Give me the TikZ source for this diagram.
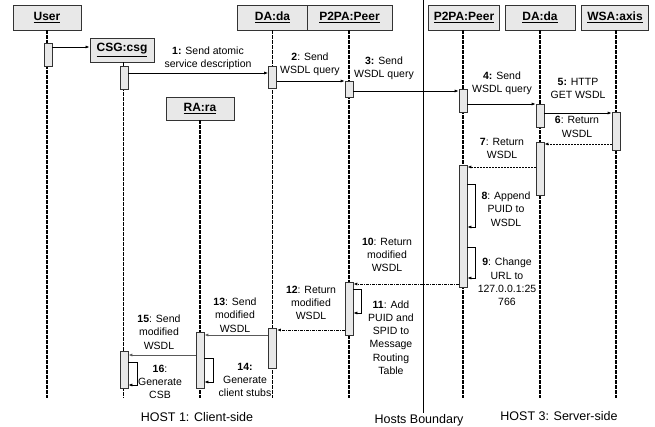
\documentclass[tikz,border=0pt]{standalone}
\usepackage{fontspec}
\setmainfont{Liberation Sans}
\usetikzlibrary{arrows.meta}
\begin{document}
\begin{tikzpicture}[x=1pt,y=-1pt,
  hdr/.style={draw=black!80, fill=gray!18, line width=0.8pt, inner sep=0pt, font=\bfseries\fontsize{12}{14}\selectfont},
  act/.style={draw=black!80, fill=gray!18, line width=0.7pt, minimum width=8pt, inner sep=0pt},
  life/.style={line width=1.6pt, dash pattern=on 3.5pt off 1.5pt},
  msg/.style={line width=0.7pt, -{Latex[length=4pt,width=3pt]}},
  ret/.style={msg, line width=0.8pt, dash pattern=on 2pt off 1pt},
  retdd/.style={msg, line width=0.9pt, dash pattern=on 3pt off 1pt on 1pt off 1pt},
  gmsg/.style={msg, draw=black!65, line width=1pt},
  lbl/.style={font=\fontsize{10.5}{13.3}\selectfont, align=center, inner sep=0pt},
  host/.style={font=\fontsize{12.5}{15}\selectfont, inner sep=0pt}]
\useasboundingbox (0,0) rectangle (655,427);

% hosts boundary
\coordinate (bTop) at (423,0);
\coordinate (bBot) at (423,413);
\draw[line width=0.6pt] (bTop) -- (bBot);

% header boxes
\node[hdr, minimum width=68pt, minimum height=25pt] (user) at (47,17.5) {\underline{User}};
\node[hdr, minimum width=71pt, minimum height=25pt] (da1) at (272.5,17.5) {\underline{DA:da}};
\node[hdr, minimum width=85pt, minimum height=25pt] (p1) at (349.5,17.5) {\underline{P2PA:Peer}};
\node[hdr, minimum width=71pt, minimum height=25pt] (p2) at (464,17.5) {\underline{P2PA:Peer}};
\node[hdr, minimum width=70pt, minimum height=25pt] (da2) at (540,17.5) {\underline{DA:da}};
\node[hdr, minimum width=67pt, minimum height=25pt] (wsa) at (615,17.5) {\underline{WSA:axis}};
\node[hdr, minimum width=64pt, minimum height=24pt] (csg) at (122,50) {\underline{CSG:csg}};
\node[hdr, minimum width=68pt, minimum height=23pt] (ra) at (200,108.5) {\underline{RA:ra}};

% lifelines
\draw[life] (user.south) -- (user.south |- 0,398);
\draw[life] (da1.south) -- (da1.south |- 0,398);
\draw[life] (p1.south -| 349,0) -- (349,398);
\draw[life] (p2.south -| 463,0) -- (463,398);
\draw[life] (da2.south) -- (da2.south |- 0,398);
\draw[life] (wsa.south -| 616,0) -- (616,398);
\draw[life] (csg.south -| 123.5,0) -- (123.5,398);
\draw[life] (ra.south) -- (ra.south |- 0,398);

% activations
\node[act, minimum height=23pt] (uA) at (48,54.5) {};
\node[act, minimum height=23pt] (csgA) at (124,77.5) {};
\node[act, minimum height=22pt] (da1A) at (272.5,77) {};
\node[act, minimum height=16pt] (p1A) at (349,89) {};
\node[act, minimum height=23pt] (p2A) at (463,100.5) {};
\node[act, minimum height=23pt] (da2A) at (540,115.5) {};
\node[act, minimum height=38pt] (wsaA) at (616,131) {};
\node[act, minimum height=53pt] (da2B) at (540,168.5) {};
\node[act, minimum height=122pt] (p2B) at (463,226) {};
\node[act, minimum height=53pt] (p1B) at (349,308.5) {};
\node[act, minimum height=40pt] (da1B) at (272.5,348) {};
\node[act, minimum height=56pt] (raA) at (200,360) {};
\node[act, minimum height=37pt] (csgB) at (124,369.5) {};

% messages
\draw[msg] (uA.east |- 0,47) -- (csg.west |- 0,47);
\draw[msg] (csgA.east |- 0,73) -- (da1A.west |- 0,73);
\draw[msg] (da1A.east |- 0,81) -- (p1A.west |- 0,81);
\draw[msg] (p1A.east |- 0,91) -- (p2A.west |- 0,91);
\draw[msg] (p2A.east |- 0,104) -- (da2A.west |- 0,104);
\draw[msg] (da2A.east |- 0,113) -- (wsaA.west |- 0,113);
\draw[ret] (wsaA.west |- 0,144) -- (da2B.east |- 0,144);
\draw[ret] (da2B.west |- 0,167) -- (p2B.east |- 0,167);
\draw[msg] (p2B.east |- 0,184) -- ++(8,0) |- (p2B.east |- 0,227);
\draw[msg] (p2B.east |- 0,247) -- ++(8,0) |- (p2B.east |- 0,278);
\draw[retdd] (p2B.west |- 0,284) -- (p1B.east |- 0,284);
\draw[msg] (p1B.east |- 0,289) -- ++(8,0) |- (p1B.east |- 0,313);
\draw[retdd] (p1B.west |- 0,330) -- (da1B.east |- 0,330);
\draw[gmsg] (da1B.west |- 0,335) -- (raA.east |- 0,335);
\draw[msg] (raA.east |- 0,358) -- ++(9,0) |- (raA.east |- 0,382);
\draw[gmsg] (raA.west |- 0,355) -- (csgB.east |- 0,355);
\draw[msg] (csgB.east |- 0,362) -- ++(9,0) |- (csgB.east |- 0,385);

% labels
\node[lbl] (l1) at (208,58.5) {\textbf{1:} Send atomic\\service description};
\node[lbl] (l2) at (310,64.5) {\textbf{2}: Send\\WSDL query};
\node[lbl] (l3) at (384,68.5) {\textbf{3:} Send\\WSDL query};
\node[lbl] (l4) at (502,83.5) {\textbf{4:} Send\\WSDL query};
\node[lbl] (l5) at (578,88.5) {\textbf{5:} HTTP\\GET WSDL};
\node[lbl] (l6) at (577,127) {\textbf{6}: Return\\WSDL};
\node[lbl] (l7) at (502,148.5) {\textbf{7}: Return\\WSDL};
\node[lbl] (l8) at (506,209) {\textbf{8}: Append\\PUID to\\WSDL};
\node[lbl] (l9) at (507,282) {\textbf{9}: Change\\URL to\\127.0.0.1:25\\766};
\node[lbl] (l10) at (387,255) {\textbf{10}: Return\\modified\\WSDL};
\node[lbl] (l11) at (391,337.5) {\textbf{11}: Add\\PUID and\\SPID to\\Message\\Routing\\Table};
\node[lbl] (l12) at (311,303) {\textbf{12}: Return\\modified\\WSDL};
\node[lbl] (l13) at (235,315) {\textbf{13}: Send\\modified\\WSDL};
\node[lbl] (l14) at (245,380) {\textbf{14:}\\Generate\\client stubs};
\node[lbl] (l15) at (159,332) {\textbf{15}: Send\\modified\\WSDL};
\node[lbl] (l16) at (160,382) {\textbf{16}:\\Generate\\CSB};

% host labels
\node[host] (h1) at (197,417) {HOST 1: Client-side};
\node[host] (hb) at (419,420) {Hosts Boundary};
\node[host] (h3) at (559,416) {HOST 3: Server-side};
\end{tikzpicture}
\end{document}
